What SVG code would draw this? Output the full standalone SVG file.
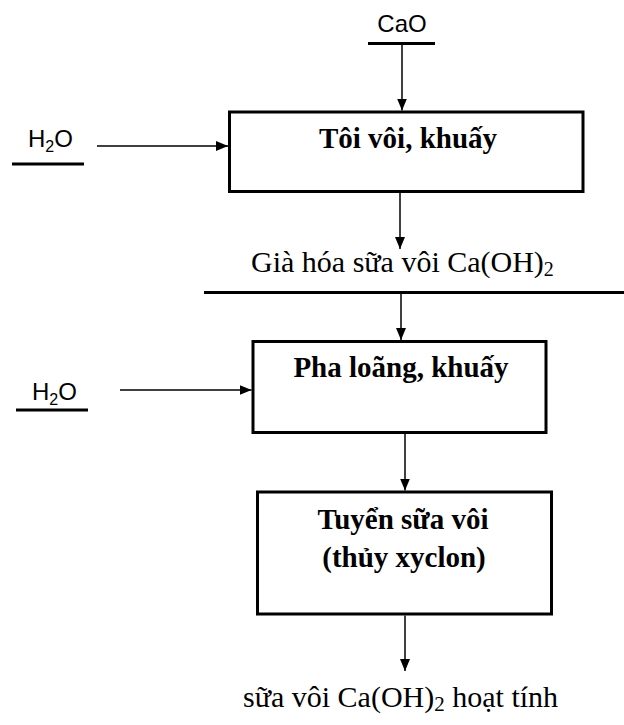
<svg xmlns="http://www.w3.org/2000/svg" width="624" height="725" viewBox="0 0 624 725">
  <style>
    .box { fill: #ffffff; stroke: #000000; stroke-width: 3; }
    .conn { stroke: #000000; stroke-width: 1.5; fill: none; marker-end: url(#arrow); }
    .bar { stroke: #000000; stroke-width: 3; }
    .sans { font-family: "Liberation Sans", Arial, sans-serif; font-size: 24px; fill: #000000; }
    .serif { font-family: "Liberation Serif", "Times New Roman", serif; font-size: 30px; fill: #000000; }
    .bold { font-weight: bold; font-size: 29px; }
  </style>
  <defs>
    <marker id="arrow" viewBox="0 0 12 10" refX="12" refY="5" markerUnits="userSpaceOnUse" markerWidth="12" markerHeight="10" orient="auto">
      <path d="M0,0 L12,5 L0,10 Z" fill="#000000"/>
    </marker>
  </defs>

  <rect width="624" height="725" fill="#ffffff"/>

  <!-- feed streams and intermediate products -->
  <g id="cao-feed">
    <text class="sans" x="402" y="32" text-anchor="middle">CaO</text>
    <line class="bar" x1="368" y1="43.5" x2="435" y2="43.5"/>
  </g>
  <g id="water-feed-1">
    <text class="sans" x="28" y="147">H<tspan font-size="16" dy="5">2</tspan><tspan dy="-5">O</tspan></text>
    <line class="bar" x1="12" y1="164" x2="84" y2="164"/>
  </g>
  <g id="aged-lime-milk">
    <text class="serif" x="251" y="272">Già hóa sữa vôi Ca(OH)<tspan font-size="20" dy="4">2</tspan></text>
    <line class="bar" x1="204" y1="292.5" x2="624" y2="292.5"/>
  </g>
  <g id="water-feed-2">
    <text class="sans" x="32" y="400">H<tspan font-size="16" dy="5">2</tspan><tspan dy="-5">O</tspan></text>
    <line class="bar" x1="16" y1="410" x2="88" y2="410"/>
  </g>
  <g id="active-lime-milk">
    <text class="serif" x="243" y="707" font-size="31">sữa vôi Ca(OH)<tspan font-size="21" dy="4">2</tspan><tspan dy="-4"> hoạt tính</tspan></text>
  </g>

  <!-- process steps -->
  <g id="slaking">
    <rect class="box" x="229.5" y="112" width="353.5" height="79.5"/>
    <text class="serif bold" x="408" y="148" text-anchor="middle">Tôi vôi, khuấy</text>
  </g>
  <g id="dilution">
    <rect class="box" x="253" y="341.5" width="293" height="91"/>
    <text class="serif bold" x="401" y="377" text-anchor="middle">Pha loãng, khuấy</text>
  </g>
  <g id="hydrocyclone">
    <rect class="box" x="257.5" y="492" width="294" height="122"/>
    <text class="serif bold" x="403" y="529" text-anchor="middle">Tuyển sữa vôi</text>
    <text class="serif bold" x="404" y="567" text-anchor="middle">(thủy xyclon)</text>
  </g>

  <!-- connectors -->
  <g id="connectors">
    <line class="conn" x1="402" y1="45" x2="402" y2="110.5"/>
    <line class="conn" x1="97" y1="146" x2="228" y2="146"/>
    <line class="conn" x1="400" y1="193" x2="400" y2="249"/>
    <line class="conn" x1="401" y1="294" x2="401" y2="340"/>
    <line class="conn" x1="120" y1="390" x2="251.5" y2="390"/>
    <line class="conn" x1="405" y1="434" x2="405" y2="490.5"/>
    <line class="conn" x1="405" y1="615.5" x2="405" y2="671"/>
  </g>
</svg>
